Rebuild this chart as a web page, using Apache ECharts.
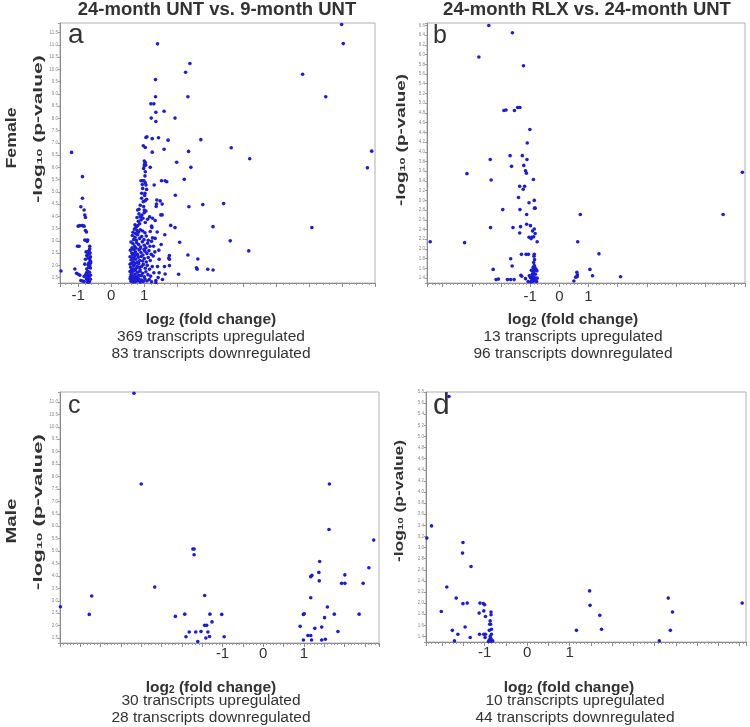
<!DOCTYPE html>
<html><head><meta charset="utf-8">
<script src="https://cdn.jsdelivr.net/npm/echarts@6/dist/echarts.min.js"></script>
<style>html,body{margin:0;padding:0;background:#fff}#c{width:750px;height:727px}</style>
</head><body><div id="c"></div>
<script>
// ---------- DATA ----------
const panelTitles = ['24-month UNT vs. 9-month UNT', '24-month RLX vs. 24-month UNT'];
const rowLabels = ['Female', 'Male'];
const panelLetters = ['a', 'b', 'c', 'd'];
const xTickLabels = [-1, 0, 1];
const upCounts = [369, 13, 30, 10];
const downCounts = [83, 96, 28, 44];

// panel a: 24-month UNT vs 9-month UNT, female
const aDown = [[-1.52,1.77],[-1.20,6.61],[-0.87,5.62],[-0.87,4.74],[-0.92,4.39],[-0.82,4.26],[-0.80,4.05],[-0.78,3.95],
[-1.00,3.60],[-0.95,3.62],[-0.87,3.62],[-0.82,3.60],[-0.78,3.42],[-0.75,3.36],
[-0.80,3.03],[-0.75,3.02],[-0.71,3.03],[-0.73,2.98],
[-1.02,2.78],[-0.97,2.78],[-0.65,2.78],[-0.65,2.68],[-0.67,2.60],[-0.64,2.50],[-0.76,2.55],[-0.72,2.54],
[-0.63,2.35],[-0.65,2.27],[-0.64,2.19],[-0.68,2.09],[-0.63,2.09],[-0.70,2.02],[-0.65,1.98],[-0.63,1.89],[-0.68,1.92],[-0.62,2.15],
[-1.10,1.85],[-1.05,1.68],[-1.00,1.64],[-0.95,1.60],
[-0.75,1.70],[-0.72,1.62],[-0.68,1.55],[-0.63,1.60],[-0.73,1.50],[-0.66,1.45],[-0.75,1.44],[-0.63,1.43],[-0.70,1.38],
[-0.92,1.38],[-0.87,1.36],[-0.82,1.34],[-0.66,1.33],[-0.71,1.31],
[-0.78,2.25],[-0.74,2.40],[-0.70,2.30],[-0.69,2.45],[-0.80,2.05],[-0.74,1.85],[-0.71,1.75],[-0.66,1.72],[-0.82,1.55],[-0.77,1.62]];
const aUp = [
[0.70,3.48],[0.78,3.42],[0.83,3.36],[0.88,3.45],[0.95,3.40],[1.02,3.33],[0.74,3.30],[1.18,3.38],[0.66,3.35],
[0.64,3.22],[0.72,3.15],[0.80,3.25],[0.86,3.10],[0.92,3.18],[0.99,3.05],[1.06,3.20],[1.12,3.02],[0.68,3.05],[0.76,3.02],[1.25,3.12],
[0.60,2.95],[0.66,2.88],[0.71,2.78],[0.77,2.92],[0.83,2.85],[0.89,2.75],[0.94,2.96],[1.00,2.82],[1.05,2.72],[1.10,2.90],[1.17,2.78],[1.22,2.98],[0.63,2.72],[0.75,2.70],
[0.58,2.62],[0.62,2.50],[0.68,2.65],[0.73,2.55],[0.79,2.45],[0.84,2.63],[0.90,2.52],[0.96,2.42],[1.02,2.58],[1.08,2.48],[1.14,2.60],[1.21,2.45],[0.65,2.42],[0.70,2.48],[0.87,2.68],[0.99,2.66],
[0.57,2.35],[0.60,2.22],[0.64,2.30],[0.67,2.15],[0.71,2.38],[0.74,2.25],[0.78,2.12],[0.82,2.33],[0.86,2.20],[0.91,2.36],[0.95,2.18],[1.00,2.28],[1.06,2.14],[1.12,2.32],[1.18,2.20],[1.27,2.38],[0.69,2.28],[0.80,2.40],
[0.57,2.05],[0.59,1.92],[0.62,2.08],[0.65,1.85],[0.68,1.98],[0.72,2.06],[0.75,1.88],[0.79,1.95],[0.83,2.08],[0.87,1.82],[0.92,1.96],[0.97,2.04],[1.03,1.88],[1.09,2.00],[1.16,1.84],[1.24,1.95],[0.61,1.80],[0.73,1.82],[0.85,1.92],
[0.57,1.75],[0.60,1.62],[0.63,1.70],[0.66,1.55],[0.69,1.78],[0.72,1.64],[0.76,1.52],[0.79,1.72],[0.83,1.60],[0.87,1.76],[0.91,1.58],[0.95,1.68],[1.00,1.53],[1.05,1.74],[1.11,1.62],[1.19,1.56],[1.29,1.70],[0.58,1.52],[0.70,1.50],[0.81,1.53],
[0.57,1.45],[0.60,1.35],[0.63,1.42],[0.66,1.32],[0.70,1.40],[0.73,1.33],[0.77,1.46],[0.80,1.36],[0.84,1.43],[0.88,1.32],[0.92,1.40],[0.97,1.34],[1.02,1.44],[1.08,1.36],[1.15,1.42],[1.22,1.33],[1.35,1.38],
[0.75,3.55],[0.80,3.62],[0.86,3.70],[0.82,3.80],[0.90,3.85],[0.78,3.95],[0.88,3.98],[0.96,3.92],[1.03,3.75],[1.10,3.88],[0.93,4.05],[0.84,4.10],[1.00,4.15],[0.80,4.26],[0.84,4.29],[1.00,4.26],[1.05,4.22],[1.16,3.98],[1.22,3.60],[0.72,3.65],
[0.92,4.74],[1.07,4.70],[0.97,4.60],[1.03,4.64],[0.95,5.14],[0.92,4.94],[1.02,4.94],[1.07,5.10],[0.90,5.45],[0.95,5.45],[0.99,5.45],[1.03,5.37],[1.05,5.28],[0.88,4.45],[0.98,4.40],[1.01,4.85],[0.94,5.30],
[1.03,5.82],[1.00,6.26],[1.03,6.20],[1.01,6.13],[1.04,6.09],[1.00,6.05],[0.97,6.88],[1.03,6.81],[1.05,7.22],[1.08,7.25],[0.98,5.95],[1.02,5.65],
[1.30,5.28],[1.52,5.45],[1.63,5.45],[1.68,5.41],[1.38,4.67],[1.37,4.50],[1.36,4.40],[1.48,4.63],[1.54,4.50],[1.50,4.06],[1.54,4.06],[1.33,3.83],[1.25,3.92],[1.23,3.54],[1.39,3.36],[1.62,3.25],[1.51,2.85],[1.80,3.63],[1.93,3.54],[1.76,2.40],[1.74,2.30],[1.76,2.25],[1.76,1.99],[1.61,1.95],[1.63,1.65],[1.45,1.70],[1.40,1.95],[1.32,2.55],[1.28,2.78],[1.45,2.25],[1.42,1.50],[1.55,1.42],[1.35,1.30],[1.33,3.10],[1.44,2.62],
[1.40,11.04],[2.38,10.24],[2.25,9.88],[1.34,9.58],[1.34,8.88],[2.32,8.88],[1.20,8.59],[1.29,8.59],[1.35,8.25],[1.60,8.29],[1.21,8.01],[1.93,8.01],[1.35,7.87],[1.24,7.17],[1.43,7.21],[1.72,7.11],[2.71,7.13],[1.60,6.74],[3.63,6.80],[1.24,6.62],[2.34,6.65],[1.98,6.21],[2.41,6.00],[4.19,6.35],[1.18,6.00],[2.21,5.51],[1.94,4.86],[3.40,4.52],[2.77,4.48],[2.35,4.39],[3.08,3.58],[6.07,3.54],[2.07,2.94],[3.60,3.00],[4.16,2.59],[2.32,2.42],[2.62,2.26],[2.58,1.90],[2.60,1.84],[2.92,1.84],[3.08,1.81],[2.04,1.64],
[6.97,11.83],[7.02,11.05],[5.79,9.80],[6.49,8.88],[7.88,6.66],[7.75,5.98]];

// panel b: 24-month RLX vs 24-month UNT, female
const bDown = [[-2.42,6.60],[-1.61,6.45],[-2.76,5.95],[-1.23,5.77],[-1.90,4.85],[-1.83,4.86],[-1.54,4.85],[-1.43,4.91],[-1.35,4.91],[-1.01,4.46],[-1.10,4.18],[-1.69,3.92],[-1.27,3.92],[-1.11,3.84],[-2.37,3.84],[-1.64,3.70],[-1.22,3.72],[-1.16,3.61],[-1.13,3.56],[-3.17,3.55],[-2.34,3.42],[-0.89,3.43],[-1.36,3.29],[-1.19,3.29],[-1.24,3.23],[-1.40,3.06],[-0.86,3.00],[-1.04,2.95],[-0.85,2.84],[-0.83,2.84],[-1.94,2.81],[-1.35,2.81],[-1.12,2.71],[-2.36,2.44],[-1.59,2.44],[-1.33,2.46],[-1.36,2.33],[-1.12,2.51],[-0.99,2.48],[-0.92,2.37],[-0.86,2.41],[-0.83,2.32],[-0.88,2.25],[-0.95,2.24],[-1.04,2.24],[-0.97,2.21],[-0.76,2.15],[-4.43,2.15],[-3.25,2.13],[-1.30,1.89],[-1.14,1.89],[-1.06,1.89],[-0.86,1.89],[-0.87,1.85],[-0.85,1.78],[-0.88,1.72],[-0.86,1.66],[-1.67,1.80],[-1.62,1.65],[-2.27,1.58],[-2.17,1.37],[-2.09,1.38],[-1.78,1.37],[-1.67,1.37],[-1.55,1.37],[-1.32,1.46],[-1.29,1.44],[-1.16,1.39],[-1.03,1.45],[-0.99,1.41],
[-0.95,1.35],[-0.92,1.38],[-0.90,1.33],[-0.88,1.42],[-0.85,1.36],[-0.83,1.40],[-0.81,1.34],[-0.93,1.48],[-0.89,1.52],[-0.86,1.55],[-0.82,1.48],[-0.80,1.58],[-0.87,1.60],[-0.84,1.62],[-0.98,1.32],[-0.78,1.33],[-0.76,1.40],[-0.77,1.55],[-0.91,1.44],[-1.07,1.33],[-0.96,1.56],[-0.90,1.62]];
const bUp = [[0.72,2.71],[5.62,2.71],[6.28,3.58],[0.63,2.15],[1.36,1.90],[1.05,1.58],[0.60,1.52],[0.62,1.47],[0.56,1.42],[1.14,1.45],[2.10,1.43],[0.50,1.34],[0.61,1.43]];

// panel c: 24-month UNT vs 9-month UNT, male
const cDown = [[-3.18,11.35],[-3.00,7.70],[-4.99,2.76],[-4.28,2.45],[-4.22,3.19],[-2.67,3.55],[-1.73,5.08],[-1.70,5.08],[-1.70,4.85],[-2.16,2.37],[-1.93,2.46],[-1.90,1.55],[-1.82,1.74],[-1.66,1.74],[-1.61,1.36],[-1.53,1.76],[-1.44,3.21],[-1.44,2.01],[-1.39,2.01],[-1.36,1.74],[-1.41,1.50],[-1.31,2.46],[-1.32,1.56],[-1.26,2.15],[-1.02,2.45],[-0.96,1.55]];
const cUp = [[0.91,1.97],[0.99,1.42],[0.99,2.45],[1.01,2.48],[1.10,1.60],[1.17,1.60],[1.19,1.42],[1.27,1.89],[1.17,3.12],[1.17,3.97],[1.20,4.02],[1.37,4.14],[1.39,4.58],[1.38,3.80],[1.44,1.94],[1.44,1.42],[1.53,1.45],[1.51,2.32],[1.58,2.75],[1.63,7.70],[1.62,5.87],[1.75,2.46],[1.84,1.76],[1.93,3.70],[2.01,3.70],[2.01,4.04],[2.36,2.46],[2.46,3.70],[2.60,4.33],[2.72,5.44]];

// panel d: 24-month RLX vs 24-month UNT, male
const dDown = [[-1.84,5.72],[-2.36,3.17],[-2.25,3.39],[-1.51,3.09],[-1.52,2.90],[-1.32,2.66],[-1.89,2.29],[-1.67,2.09],[-2.02,1.85],[-1.51,1.99],[-1.41,2.00],[-1.11,2.00],[-1.03,1.99],[-1.00,1.97],[-1.02,1.86],[-1.13,1.82],[-0.98,1.76],[-0.85,1.84],[-0.85,1.79],[-0.87,1.68],[-0.86,1.62],[-0.88,1.62],[-0.84,1.53],[-0.84,1.44],[-0.89,1.51],[-1.46,1.57],[-1.76,1.51],[-1.63,1.44],[-1.71,1.32],[-1.34,1.38],[-1.12,1.44],[-1.02,1.44],[-0.98,1.44],[-0.99,1.38],[-0.89,1.34],[-0.86,1.34],[-0.84,1.32],[-0.81,1.32],[-0.88,1.32],[-0.91,1.31],[-0.85,1.36],[-0.87,1.40]];
const dUp = [[1.16,1.51],[1.47,2.22],[1.48,1.96],[1.71,1.78],[1.75,1.53],[3.11,1.32],[3.32,2.09],[3.42,1.84],[3.37,1.51],[5.06,2.00]];

// axis ranges
const xRanges = [[-1.55, 7.98], [-4.54, 6.37], [-5.0, 2.85], [-2.38, 5.15]];
const yRanges = [[1.28, 11.89], [1.30, 6.65], [1.30, 11.40], [1.30, 5.80]];
const xSteps = [1, 1, 0.5, 0.5];
const ySteps = [0.5, 0.2, 0.5, 0.2];

// ---------- LAYOUT / STYLE ----------
const FONT = 'Liberation Sans, Arial, sans-serif';
const INK = '#333';
const DOT = '#1c1cd6';
const grids = [
  {left: 60, top: 23, width: 315, height: 260},
  {left: 427, top: 23, width: 318, height: 260},
  {left: 60, top: 392, width: 319, height: 251},
  {left: 426, top: 392, width: 320, height: 250}
];
const xMinor = [5, 8, 6, 6];
const xLabelMargin = [5, 6, 3, 3];

function isMult(v, s) { const r = v / s; return Math.abs(r - Math.round(r)) < 1e-6; }
function fmtX(v) {
  for (const t of xTickLabels) if (Math.abs(v - t) < 1e-6) return String(t);
  return '';
}

const xAxis = [], yAxis = [], series = [];
const allDown = [aDown, bDown, cDown, dDown];
const allUp = [aUp, bUp, cUp, dUp];
for (let i = 0; i < 4; i++) {
  const xs = xSteps[i], ys = ySteps[i];
  xAxis.push({
    type: 'value', gridIndex: i, min: xRanges[i][0], max: xRanges[i][1],
    minInterval: xs, maxInterval: xs, splitNumber: 20,
    axisLine: {show: true, onZero: false, lineStyle: {color: '#8c8c8c', width: 1}},
    axisTick: {show: true, length: 4, lineStyle: {color: '#8c8c8c'}},
    minorTick: {show: true, splitNumber: xMinor[i], length: 2, lineStyle: {color: '#9a9a9a'}},
    splitLine: {show: false}, minorSplitLine: {show: false},
    axisLabel: {formatter: fmtX, fontSize: 15, color: INK, margin: xLabelMargin[i], fontFamily: FONT, showMinLabel: true, showMaxLabel: true}
  });
  yAxis.push({
    type: 'value', gridIndex: i, min: yRanges[i][0], max: yRanges[i][1],
    minInterval: ys, maxInterval: ys, splitNumber: 40,
    axisLine: {show: true, onZero: false, lineStyle: {color: '#8c8c8c', width: 1}},
    axisTick: {show: true, length: 2, lineStyle: {color: '#9a9a9a'}},
    splitLine: {show: false},
    axisLabel: {fontSize: 4.5, color: '#888', margin: 2, fontFamily: FONT,
      formatter: (function (s) { return function (v) { return isMult(v, s) ? Number(v).toFixed(1) : ''; }; })(ys)}
  });
  for (const d of [allDown[i], allUp[i]]) {
    series.push({type: 'scatter', xAxisIndex: i, yAxisIndex: i, data: d, symbol: 'circle', symbolSize: 3.6,
      itemStyle: {color: DOT, opacity: 1}, silent: true, animation: false});
  }
}

function T(x, y, text, size, weight, extra) {
  return Object.assign({type: 'text', x: x, y: y, silent: true,
    style: {text: text, fontSize: size, fontWeight: weight, fontFamily: FONT, fill: INK, align: 'center', verticalAlign: 'middle'}}, extra || {});
}
function L(x, y, text, size) {
  return {type: 'text', x: x, y: y, silent: true,
    style: {text: text, fontSize: size, fontFamily: FONT, fill: INK, align: 'left', verticalAlign: 'middle'}};
}
function richText(x, y, parts, size, subSize, extra) {
  return Object.assign({type: 'text', x: x, y: y, silent: true,
    style: {text: parts, align: 'center', verticalAlign: 'middle', fill: INK,
      rich: {
        b: {fontSize: size, fontWeight: 'bold', fontFamily: FONT, fill: INK, verticalAlign: 'bottom', lineHeight: size * 1.2},
        s: {fontSize: subSize, fontWeight: 'bold', fontFamily: FONT, fill: INK, verticalAlign: 'bottom', lineHeight: size * 1.2}
      }}}, extra || {});
}
const ylab = '{b|-log}{s|10}{b| (p-value)}';
const xlab = '{b|log}{s|2}{b| (fold change)}';

const graphic = [
  T(217, 10, panelTitles[0], 18.5, 'bold'),
  T(587, 10, panelTitles[1], 18.5, 'bold'),
  T(12, 138, rowLabels[0], 15, 'bold', {rotation: Math.PI / 2, scaleX: 1.18}),
  T(12, 521, rowLabels[1], 15, 'bold', {rotation: Math.PI / 2, scaleX: 1.35}),
  richText(37, 129, ylab, 12, 8, {rotation: Math.PI / 2, scaleX: 1.75}),
  richText(400, 140, ylab, 12, 8, {rotation: Math.PI / 2, scaleX: 1.57}),
  richText(37, 512, ylab, 12, 8, {rotation: Math.PI / 2, scaleX: 1.85}),
  richText(398, 501, ylab, 12, 8, {rotation: Math.PI / 2, scaleX: 1.45}),
  L(68, 35, panelLetters[0], 28),
  L(433, 36, panelLetters[1], 25),
  L(68, 406, panelLetters[2], 25),
  L(433, 406, panelLetters[3], 30),
  richText(211, 318, xlab, 15.5, 10),
  T(211, 337, upCounts[0] + ' transcripts upregulated', 15.5, 'normal'),
  T(211, 354, downCounts[0] + ' transcripts downregulated', 15.5, 'normal'),
  richText(573, 318, xlab, 15.5, 10),
  T(573, 337, upCounts[1] + ' transcripts upregulated', 15.5, 'normal'),
  T(573, 354, downCounts[1] + ' transcripts downregulated', 15.5, 'normal'),
  richText(211, 686, xlab, 15.5, 10),
  T(211, 701, upCounts[2] + ' transcripts upregulated', 15.5, 'normal'),
  T(211, 718, downCounts[2] + ' transcripts downregulated', 15.5, 'normal'),
  richText(569, 686, xlab, 15.5, 10),
  T(575, 701, upCounts[3] + ' transcripts upregulated', 15.5, 'normal'),
  T(575, 718, downCounts[3] + ' transcripts downregulated', 15.5, 'normal')
];

const chart = echarts.init(document.getElementById('c'), null, {renderer: 'canvas'});
chart.setOption({
  animation: false,
  backgroundColor: '#fff',
  grid: grids.map(g => Object.assign({show: true, borderColor: '#b0b0b0', borderWidth: 1, backgroundColor: '#fff', containLabel: false}, g)),
  xAxis: xAxis, yAxis: yAxis, series: series, graphic: graphic
});
</script></body></html>
